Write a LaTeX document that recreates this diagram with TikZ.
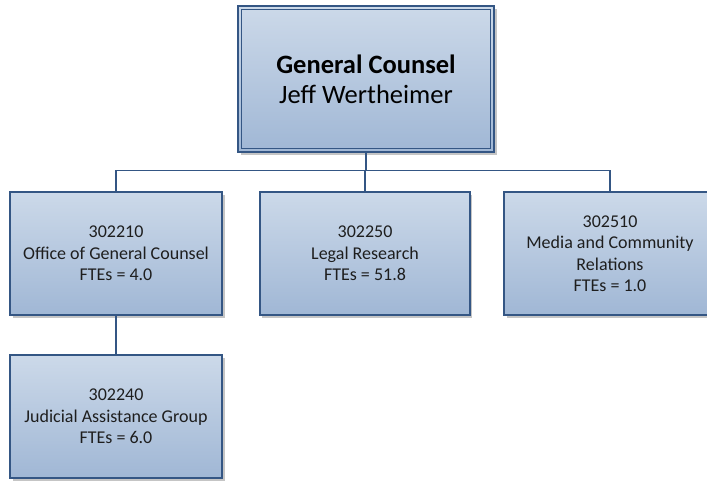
\documentclass[tikz,border=0pt]{standalone}
\usepackage{fontspec}
\setmainfont{Carlito}
\definecolor{bordc}{RGB}{52,86,132}
\definecolor{topc}{RGB}{204,217,233}
\definecolor{botc}{RGB}{160,183,213}
\definecolor{txtc}{RGB}{30,30,30}
\tikzset{
  orgbox/.style={draw=bordc, line width=1.3pt, top color=topc, bottom color=botc,
    minimum width=212pt, minimum height=123pt, align=center, text=txtc,
    inner sep=0pt, font=\fontsize{18}{21.5}\selectfont},
  shad/.style={fill=black!45, opacity=0.5},
  link/.style={draw=bordc, line width=1.3pt}
}
\begin{document}
\begin{tikzpicture}[x=1pt,y=-1pt]
\clip (0,0) rectangle (707,481);
\fill[white] (0,0) rectangle (707,481);
% shadows
\fill[shad] (241,9) rectangle (497,155);
\fill[shad] (13,195) rectangle (225,318);
\fill[shad] (262,195) rectangle (472,318);
\fill[shad] (507,195) rectangle (719,318);
\fill[shad] (13,358) rectangle (225,481);
% top box
\node[orgbox, minimum width=256pt, minimum height=146pt, font=\fontsize{26.5}{30}\selectfont, text=black] (top) at (366,79) {\textbf{General Counsel}\\Jeff Wertheimer};
\draw[bordc, line width=1.2pt] ([xshift=4.5pt,yshift=-4.5pt]top.north west) rectangle ([xshift=-4.5pt,yshift=4.5pt]top.south east);
% level boxes
\node[orgbox] (b1) at (116,253.5) {302210\\Office of General Counsel\\FTEs = 4.0};
\node[orgbox, minimum width=210pt] (b2) at (365,253.5) {302250\\Legal Research\\FTEs = 51.8};
\node[orgbox] (b3) at (610,253.5) {302510\\Media and Community\\Relations\\FTEs = 1.0};
\node[orgbox] (b4) at (116,416.5) {302240\\Judicial Assistance Group\\FTEs = 6.0};
% connectors
\coordinate (bar) at (366,170.5);
\draw[link] (top.south) -- (bar);
\draw[link] (b1.north) |- (bar) -| (b3.north);
\draw[link] (b2.north) -- (b2.north |- bar);
\draw[link] (b1.south) -- (b4.north);
\end{tikzpicture}
\end{document}
